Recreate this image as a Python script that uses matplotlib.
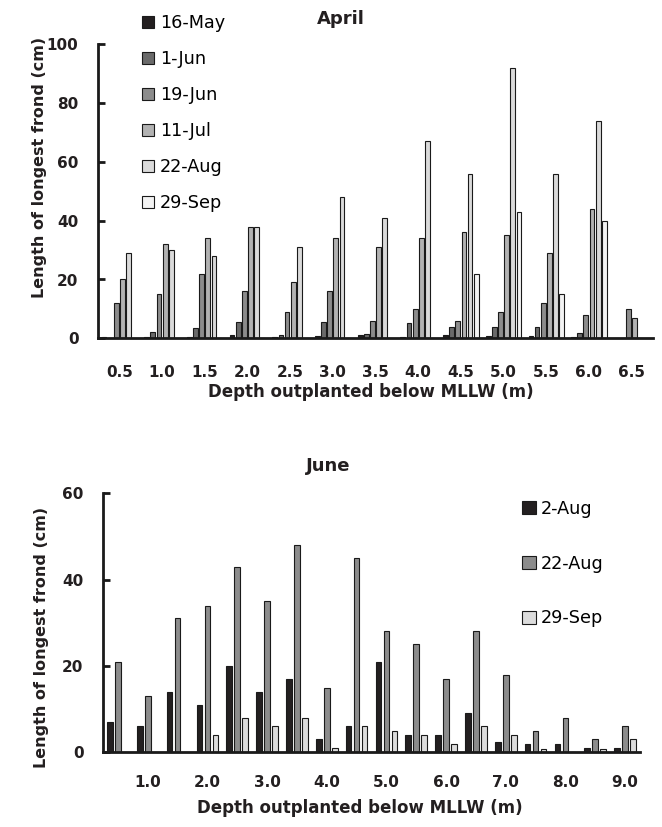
import numpy as np
import matplotlib
matplotlib.use("Agg")
import matplotlib.pyplot as plt

plt.rcParams['font.family'] = ['DejaVu Sans']

# ---- April outplanting: longest frond (cm) by depth and survey date ----
april_depths = ['0.5', '1.0', '1.5', '2.0', '2.5', '3.0', '3.5',
                '4.0', '4.5', '5.0', '5.5', '6.0', '6.5']
april_dates = ['16-May', '1-Jun', '19-Jun', '11-Jul', '22-Aug', '29-Sep']
may16 = [0.6, 0.6, 0.4, 1.1, 0.6, 0.8, 1.1, 0.3, 1.1, 0.8, 0.8, 0.3, 0]
jun1 = [0, 2.2, 3.6, 5.7, 1.2, 5.7, 1.4, 5.1, 3.7, 4.0, 3.7, 1.7, 0]
jun19 = [12, 15, 22, 16, 9, 16, 6, 10, 6, 9, 12, 8, 10]
jul11 = [20, 32, 34, 38, 19, 34, 31, 34, 36, 35, 29, 44, 7]
aug22_apr = [29, 30, 28, 38, 31, 48, 41, 67, 56, 92, 56, 74, 0]
sep29_apr = [0, 0, 0, 0, 0, 0, 0, 0, 22, 43, 15, 40, 0]
april_colors = ['#231f20', '#6a6a6a', '#8c8c8c', '#b2b2b2', '#dadada', '#f3f3f3']

# ---- June outplanting ----
june_depths = ['0.5', '1.0', '1.5', '2.0', '2.5', '3.0', '3.5', '4.0', '4.5',
               '5.0', '5.5', '6.0', '6.5', '7.0', '7.5', '8.0', '8.5', '9.0']
june_dates = ['2-Aug', '22-Aug', '29-Sep']
aug2 = [7, 6, 14, 11, 20, 14, 17, 3, 6, 21, 4, 4, 9, 2.5, 2, 2, 1, 1]
aug22_jun = [21, 13, 31, 34, 43, 35, 48, 15, 45, 28, 25, 17, 28, 18, 5, 8, 3, 6]
sep29_jun = [0, 0, 0, 4, 8, 6, 8, 1, 6, 5, 4, 2, 6, 4, 0.8, 0, 0.8, 3]
june_colors = ['#231f20', '#8c8c8c', '#dcdcdc']

W, H = 662, 827
fig = plt.figure(figsize=(W / 100, H / 100), dpi=100)


def frac_box(left, top, right, bottom):
    return [left / W, 1 - bottom / H, (right - left) / W, (bottom - top) / H]


def style_axes(ax):
    for s in ('top', 'right'):
        ax.spines[s].set_visible(False)
    for s in ('left', 'bottom'):
        ax.spines[s].set_linewidth(2.0)
        ax.spines[s].set_color('#1a1a1a')
        ax.spines[s].set_zorder(5)
    ax.tick_params(axis='y', direction='in', length=5, width=2.0,
                   labelsize=11, pad=14, color='#1a1a1a')
    ax.tick_params(axis='x', length=0, labelsize=11)
    for lab in ax.get_xticklabels() + ax.get_yticklabels():
        lab.set_fontweight('bold')
        lab.set_color('#231f20')


# ---------------- April panel ----------------
ax1 = fig.add_axes(frac_box(98, 44.3, 653, 338.3))
series_a = [may16, jun1, jun19, jul11, aug22_apr, sep29_apr]
xa = np.arange(len(april_depths))
step_a, width_a = 0.144, 0.112
bars_a = []
for i, (vals, col, lab) in enumerate(zip(series_a, april_colors, april_dates)):
    b = ax1.bar(xa + (i - 2.5) * step_a, vals, width_a, color=col,
                edgecolor='#1a1a1a', linewidth=0.8, label=lab, zorder=2)
    bars_a.append(b)
ax1.set_xlim(-0.5, len(april_depths) - 0.5)
ax1.set_ylim(0, 100)
ax1.set_yticks([0, 20, 40, 60, 80, 100])
ax1.set_xticks(xa)
ax1.set_xticklabels(april_depths)
ax1.tick_params(axis='x', pad=19)
style_axes(ax1)
ax1.set_ylabel('Length of longest frond (cm)', fontsize=11.5,
               fontweight='bold', color='#231f20')
ax1.yaxis.set_label_coords(-0.092, 0.58)
ax1.set_xlabel('Depth outplanted below MLLW (m)', fontsize=12,
               fontweight='bold', color='#231f20')
ax1.xaxis.set_label_coords(0.492, -0.153)
fig.text(341 / W, 1 - 19 / H, 'April', fontsize=13, fontweight='bold',
         ha='center', va='center', color='#231f20')
fig.legend(handles=bars_a, labels=april_dates, loc='upper left',
           bbox_to_anchor=(142 / W, 1 - 14 / H), frameon=False,
           fontsize=12.7, handlelength=0.68, handleheight=0.68,
           handletextpad=0.35, labelspacing=1.02, borderpad=0,
           borderaxespad=0)

# ---------------- June panel ----------------
ax2 = fig.add_axes(frac_box(103, 493.3, 640, 752.3))
series_j = [aug2, aug22_jun, sep29_jun]
xj = np.arange(len(june_depths))
step_j, width_j = 0.27, 0.19
bars_j = []
for i, (vals, col, lab) in enumerate(zip(series_j, june_colors, june_dates)):
    b = ax2.bar(xj + (i - 1) * step_j, vals, width_j, color=col,
                edgecolor='#1a1a1a', linewidth=0.8, label=lab, zorder=2)
    bars_j.append(b)
ax2.set_xlim(-0.5, len(june_depths) - 0.5)
ax2.set_ylim(0, 60)
ax2.set_yticks([0, 20, 40, 60])
tick_idx = [k for k, d in enumerate(june_depths) if d.endswith('.0')]
ax2.set_xticks(tick_idx)
ax2.set_xticklabels([june_depths[k] for k in tick_idx])
ax2.tick_params(axis='x', pad=16)
style_axes(ax2)
ax2.set_ylabel('Length of longest frond (cm)', fontsize=11.5,
               fontweight='bold', color='#231f20')
ax2.yaxis.set_label_coords(-0.1006, 0.444)
ax2.set_xlabel('Depth outplanted below MLLW (m)', fontsize=12,
               fontweight='bold', color='#231f20')
ax2.xaxis.set_label_coords(0.479, -0.182)
fig.text(328 / W, 1 - 466 / H, 'June', fontsize=13, fontweight='bold',
         ha='center', va='center', color='#231f20')
fig.legend(handles=bars_j, labels=june_dates, loc='upper left',
           bbox_to_anchor=(522 / W, 1 - 500 / H), frameon=False,
           fontsize=12.7, handlelength=0.77, handleheight=0.77,
           handletextpad=0.3, labelspacing=2.08, borderpad=0,
           borderaxespad=0)

fig.savefig('out.png', dpi=100, facecolor='white')
